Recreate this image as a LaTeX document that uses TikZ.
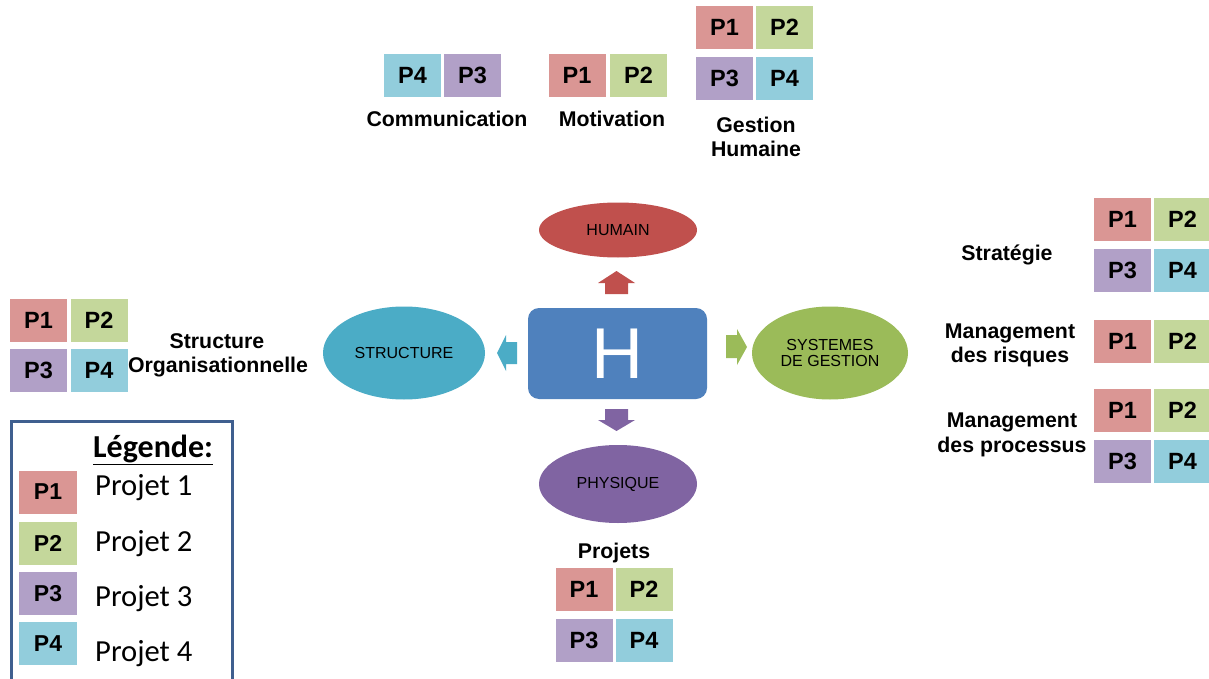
\documentclass[tikz,border=0pt]{standalone}
\usepackage{fontspec}
\setmainfont{Liberation Sans}
\newfontfamily\calib{Carlito}
\usetikzlibrary{shapes.geometric}
\definecolor{cpA}{HTML}{DA9694}
\definecolor{cpB}{HTML}{C4D79B}
\definecolor{cpC}{HTML}{B1A0C7}
\definecolor{cpD}{HTML}{92CDDC}
\definecolor{cred}{HTML}{C0504D}
\definecolor{cgreen}{HTML}{9BBB59}
\definecolor{cteal}{HTML}{4BACC6}
\definecolor{cpurple}{HTML}{8064A2}
\definecolor{cblue}{HTML}{4F81BD}
\definecolor{cframe}{HTML}{3F5F8F}
\begin{document}
\begin{tikzpicture}[x=1pt,y=-1pt,
  pbox/.style={rectangle, minimum width=57pt, minimum height=43pt, inner sep=0pt,
    font=\fontsize{23.5}{26}\selectfont\bfseries},
  lbox/.style={pbox, minimum width=58pt, font=\fontsize{23}{26}\selectfont\bfseries},
  lab/.style={anchor=base, inner sep=0pt, font=\fontsize{21.3}{24}\selectfont\bfseries},
  ell/.style={ellipse, inner sep=0pt, align=center, font=\fontsize{16}{16.5}\selectfont},
  leg/.style={anchor=base west, inner sep=0pt, font=\calib\fontsize{30.6}{34}\selectfont},
]
\useasboundingbox (0,0) rectangle (1209,679);
\fill[white] (0,0) rectangle (1209,679);

% ---- top groups
\node[pbox, fill=cpD] (c4) at (412.5,75.5) {P4};
\node[pbox, fill=cpC] (c3) at (472.5,75.5) {P3};
\node[lab] (lcomm) at (447,127) {Communication};

\node[pbox, fill=cpA] (m1) at (577,75.5) {P1};
\node[pbox, fill=cpB] (m2) at (638.5,75.5) {P2};
\node[lab] (lmot) at (612,127) {Motivation};

\node[pbox, fill=cpA] (g1) at (724.5,27.5) {P1};
\node[pbox, fill=cpB] (g2) at (784.5,27.5) {P2};
\node[pbox, fill=cpC] (g3) at (724.5,78.5) {P3};
\node[pbox, fill=cpD] (g4) at (784.5,78.5) {P4};
\node[lab] (lgest1) at (756,133) {Gestion};
\node[lab] (lgest2) at (756,157) {Humaine};

% ---- right groups
\node[pbox, fill=cpA] (s1) at (1122.5,219.5) {P1};
\node[pbox, fill=cpB] (s2) at (1182.5,219.5) {P2};
\node[pbox, fill=cpC] (s3) at (1122.5,270.5) {P3};
\node[pbox, fill=cpD] (s4) at (1182.5,270.5) {P4};
\node[lab] (lstrat) at (1007,260) {Stratégie};

\node[pbox, fill=cpA] (r1) at (1122.5,341.5) {P1};
\node[pbox, fill=cpB] (r2) at (1182.5,341.5) {P2};
\node[lab] (lrisk1) at (1010,338) {Management};
\node[lab] (lrisk2) at (1010,362) {des risques};

\node[pbox, fill=cpA] (p1) at (1122.5,410.5) {P1};
\node[pbox, fill=cpB] (p2) at (1182.5,410.5) {P2};
\node[pbox, fill=cpC] (p3) at (1122.5,461.5) {P3};
\node[pbox, fill=cpD] (p4) at (1182.5,461.5) {P4};
\node[lab] (lproc1) at (1012,427) {Management};
\node[lab] (lproc2) at (1012,452) {des processus};

% ---- left group
\node[pbox, fill=cpA] (st1) at (38.5,320.5) {P1};
\node[pbox, fill=cpB] (st2) at (99,320.5) {P2};
\node[pbox, fill=cpC] (st3) at (38.5,370.5) {P3};
\node[pbox, fill=cpD] (st4) at (99,370.5) {P4};
\node[lab] (lstruc1) at (217,348) {Structure};
\node[lab] (lstruc2) at (218,372) {Organisationnelle};

% ---- bottom group
\node[lab] (lproj) at (614,558) {Projets};
\node[pbox, fill=cpA] (pr1) at (584,589.5) {P1};
\node[pbox, fill=cpB] (pr2) at (644,589.5) {P2};
\node[pbox, fill=cpC] (pr3) at (584,640.5) {P3};
\node[pbox, fill=cpD] (pr4) at (644,640.5) {P4};

% ---- centre
\node[rectangle, rounded corners=11pt, fill=cblue, minimum width=179pt, minimum height=91pt,
  inner sep=0pt, text=white, font=\fontsize{72}{72}\selectfont] (H) at (617.5,353.5) {H};
\node[ell, fill=cred, minimum width=158pt, minimum height=55pt] (hum) at (618,230) {HUMAIN};
\node[ell, fill=cteal, minimum width=162pt, minimum height=93pt] (str) at (404,353) {STRUCTURE};
\node[ell, fill=cgreen, minimum width=156pt, minimum height=93pt] (sys) at (830,353) {SYSTEMES\\DE GESTION};
\node[ell, fill=cpurple, minimum width=158pt, minimum height=78pt] (phy) at (618,484) {PHYSIQUE};

% block arrows
\fill[cred] (605,294) -- (605,283) -- (598,283) -- (616.5,271) -- (635,283) -- (628,283) -- (628,294) -- cycle;
\fill[cpurple] (605,409) -- (605,420) -- (598,420) -- (616.5,431) -- (635,420) -- (628,420) -- (628,409) -- cycle;
\fill[cgreen] (726,335) -- (737,335) -- (737,329) -- (747,347) -- (737,365) -- (737,358) -- (726,358) -- cycle;
\fill[cteal] (517,342) -- (506,342) -- (506,335) -- (497,353) -- (506,371) -- (506,364) -- (517,364) -- cycle;

% ---- legend
\draw[cframe, line width=3pt] (11,690) -- (11,421) -- (232,421) -- (232,690);
\node[anchor=base west, inner sep=0pt, font=\calib\fontsize{32}{34}\selectfont\bfseries] (legt) at (93,457) {\underline{Légende:}};
\node[lbox, fill=cpA] (l1) at (48,492) {P1};
\node[lbox, fill=cpB] (l2) at (48,543) {P2};
\node[lbox, fill=cpC] (l3) at (48,593.5) {P3};
\node[lbox, fill=cpD] (l4) at (48,643.5) {P4};
\node[leg] (t1) at (95,495) {Projet 1};
\node[leg] (t2) at (95,551) {Projet 2};
\node[leg] (t3) at (95,606) {Projet 3};
\node[leg] (t4) at (95,661) {Projet 4};
\end{tikzpicture}
\end{document}
